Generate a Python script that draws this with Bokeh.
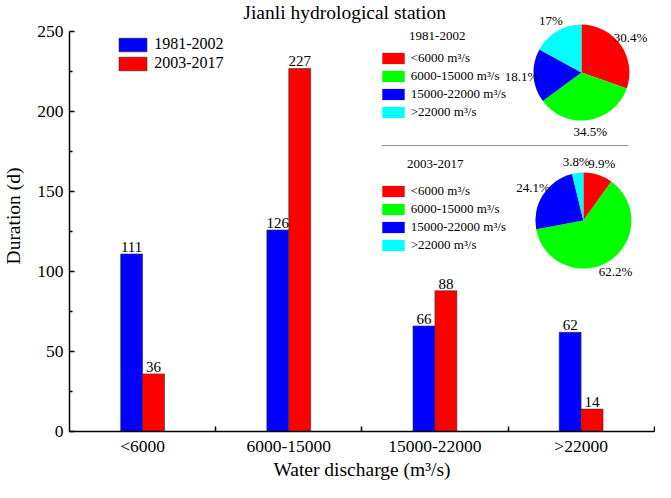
import numpy as np
from bokeh.plotting import figure
from bokeh.models import (Range1d, LinearAxis, FixedTicker, Legend, LegendItem,
                          Label, ColumnDataSource)
from bokeh.transform import dodge
from bokeh.embed import file_html
from bokeh.resources import INLINE
from bokeh.core.properties import value

# ---------------- data ----------------
categories = ["<6000", "6000-15000", "15000-22000", ">22000"]
periods = ["1981-2002", "2003-2017"]
days_1981_2002 = [111, 126, 66, 62]
days_2003_2017 = [36, 227, 88, 14]
y_ticks = [0, 50, 100, 150, 200, 250]
y_minor_ticks = [25, 75, 125, 175, 225]

pie_classes = ["<6000 m³/s", "6000-15000 m³/s", "15000-22000 m³/s", ">22000 m³/s"]
pie_1981_2002 = [30.4, 34.5, 18.1, 17.0]
pie_2003_2017 = [9.9, 62.2, 24.1, 3.8]
pie_text_1981_2002 = ["30.4%", "34.5%", "18.1%", "17%"]
pie_text_2003_2017 = ["9.9%", "62.2%", "24.1%", "3.8%"]

# ---------------- style / layout ----------------
FONT = "Liberation Serif"
BLUE, RED, GREEN, CYAN = "#0000FF", "#FF0000", "#00FF00", "#00FFFF"
pie_colors = [RED, GREEN, BLUE, CYAN]

W, H = 655, 482
KX, KY = W / 671.0, H / 498.0          # reference-pixel -> figure-pixel scale
BL, BR, BT, BB = 68, 1, 0, 48
PX_X = 150.0 * KX                       # pixels per category
PX_Y = 416.0 * KY / 250.0               # pixels per day
frame_w = W - BL - BR
frame_h = H - BT - BB
X_END = frame_w / PX_X
Y_END = frame_h / PX_Y


def to_data(sx, sy):
    """reference picture pixel -> data coordinates"""
    return (sx * KX - BL) / PX_X, (frame_h - sy * KY) / PX_Y


def legend_loc(sx_left, sy_bottom):
    """reference pixel of a legend's bottom-left corner -> frame offset"""
    return (sx_left * KX - BL, frame_h - sy_bottom * KY)


p = figure(width=W, height=H, output_backend="svg", toolbar_location=None,
           x_range=Range1d(0, X_END), y_range=Range1d(0, Y_END),
           x_axis_type=None, y_axis_type=None,
           min_border_left=BL, min_border_right=BR,
           min_border_top=BT, min_border_bottom=BB)
p.outline_line_color = None
p.background_fill_color = "white"
p.border_fill_color = "white"

# ---------------- axes ----------------
centers = [i + 0.5 for i in range(len(categories))]
boundaries = [i + 1 for i in range(len(categories))]

xaxis = LinearAxis(ticker=FixedTicker(ticks=centers, minor_ticks=boundaries),
                   major_label_overrides={c: lab for c, lab in zip(centers, categories)},
                   axis_label="Water discharge (m³/s)")
yaxis = LinearAxis(ticker=FixedTicker(ticks=y_ticks, minor_ticks=y_minor_ticks),
                   axis_label="Duration (d)", bounds=(0, 250))
for ax in (xaxis, yaxis):
    ax.axis_line_color = "black"
    ax.axis_line_width = 1.5
    ax.major_label_text_font = FONT
    ax.major_label_text_font_size = "17.5px"
    ax.major_label_text_color = "black"
    ax.axis_label_text_font = FONT
    ax.axis_label_text_font_size = "19.5px"
    ax.axis_label_text_font_style = "normal"
    ax.axis_label_text_color = "black"
    ax.major_tick_line_color = "black"
    ax.minor_tick_line_color = "black"
    ax.major_tick_line_width = 1.5
    ax.minor_tick_line_width = 1.5
    ax.major_tick_out = 0
    ax.minor_tick_out = 0
xaxis.major_tick_in = 0
xaxis.minor_tick_in = 5
xaxis.major_label_standoff = 4
xaxis.axis_label_standoff = 0
yaxis.major_tick_in = 5
yaxis.minor_tick_in = 3
yaxis.major_label_standoff = 6
yaxis.axis_label_standoff = 10
p.add_layout(xaxis, "below")
p.add_layout(yaxis, "left")

# ---------------- bars ----------------
src = ColumnDataSource(dict(
    x=centers, a=days_1981_2002, b=days_2003_2017,
    la=[str(v) for v in days_1981_2002], lb=[str(v) for v in days_2003_2017]))
BW = 0.15
rb = p.vbar(x=dodge("x", -BW / 2), top="a", width=BW, bottom=0,
            fill_color=BLUE, line_color="#333333", line_width=0.6, source=src)
rr = p.vbar(x=dodge("x", BW / 2), top="b", width=BW, bottom=0,
            fill_color=RED, line_color="#333333", line_width=0.6, source=src)
for col, top, off in (("la", "a", -BW / 2), ("lb", "b", BW / 2)):
    p.text(x=dodge("x", off), y=top, text=col, source=src,
           text_align="center", text_baseline="bottom", y_offset=-2,
           text_font=value(FONT), text_font_size="15px", text_color="black")

main_leg = Legend(items=[LegendItem(label=periods[0], renderers=[rb]),
                         LegendItem(label=periods[1], renderers=[rr])],
                  location=legend_loc(117, 78), padding=0, margin=0, spacing=1,
                  glyph_width=35, glyph_height=17, label_height=17,
                  label_standoff=4, label_text_font=FONT,
                  label_text_font_size="16px", label_text_color="black",
                  border_line_alpha=0, background_fill_alpha=0)
p.add_layout(main_leg)


# ---------------- pie insets ----------------
def pie(vals, texts, title, cx_px, cy_px, title_px, leg_px):
    cx, cy = to_data(cx_px, cy_px)
    fr = np.array(vals, dtype=float) / np.sum(vals)
    cum = np.concatenate([[0.0], np.cumsum(fr)])
    start = np.pi / 2 - 2 * np.pi * cum[:-1]
    end = np.pi / 2 - 2 * np.pi * cum[1:]
    mid = (start + end) / 2
    R_LAB = 60
    s = ColumnDataSource(dict(
        x=[cx] * len(vals), y=[cy] * len(vals), start=start, end=end,
        color=pie_colors, pct=texts,
        xo=R_LAB * np.cos(mid), yo=-R_LAB * np.sin(mid)))
    r = p.wedge(x="x", y="y", radius=48, radius_units="screen",
                start_angle="start", end_angle="end", direction="clock",
                fill_color="color", line_color=None, source=s)
    p.text(x="x", y="y", text="pct", x_offset="xo", y_offset="yo", source=s,
           text_align="center", text_baseline="middle",
           text_font=value(FONT), text_font_size="13px", text_color="black")
    tx, ty = to_data(*title_px)
    p.add_layout(Label(x=tx, y=ty, text=title, text_align="center",
                       text_baseline="middle", text_font=FONT,
                       text_font_size="13px", text_color="black"))
    leg = Legend(items=[LegendItem(label=pie_classes[i], renderers=[r], index=i)
                        for i in range(len(vals))],
                 location=legend_loc(*leg_px), padding=0, margin=0, spacing=2,
                 glyph_width=28, glyph_height=14, label_height=13,
                 label_standoff=4, label_text_font=FONT,
                 label_text_font_size="13px", label_text_color="black",
                 border_line_alpha=0, background_fill_alpha=0)
    p.add_layout(leg)


pie(pie_1981_2002, pie_text_1981_2002, periods[0], 595, 75, (447, 37), (387, 127))
pie(pie_2003_2017, pie_text_2003_2017, periods[1], 597, 229, (445, 170), (387, 264))

# separator line between the two insets
x0, y0 = to_data(390, 151)
x1, y1 = to_data(643, 151)
p.segment(x0=[x0], y0=[y0], x1=[x1], y1=[y1], line_color="#8c8c8c", line_width=1)

# title
tx, ty = to_data(352, 13)
p.add_layout(Label(x=tx, y=ty, text="Jianli hydrological station",
                   text_align="center", text_baseline="middle", text_font=FONT,
                   text_font_size="19.5px", text_color="black"))

open("out.html", "w").write(file_html(p, INLINE))
